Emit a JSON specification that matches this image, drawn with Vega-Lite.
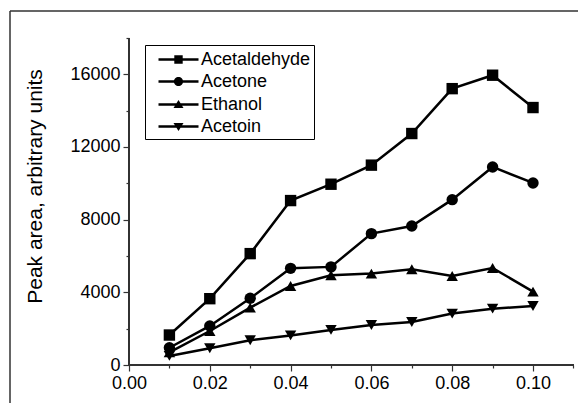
{
  "$schema": "https://vega.github.io/schema/vega-lite/v6.json",
  "width": 568,
  "height": 392,
  "autosize": {"type": "none"},
  "padding": {"left": 10, "top": 11, "right": 0, "bottom": 0},
  "background": "white",
  "config": {
    "view": {"stroke": "#333333", "strokeWidth": 1.5, "strokeDash": [568, 960, 392, 0]},
    "font": "Liberation Sans"
  },
  "data": {
    "values": [
      {"series": "Acetaldehyde", "x": 0.01, "y": 1650},
      {"series": "Acetaldehyde", "x": 0.02, "y": 3650},
      {"series": "Acetaldehyde", "x": 0.03, "y": 6130},
      {"series": "Acetaldehyde", "x": 0.04, "y": 9050},
      {"series": "Acetaldehyde", "x": 0.05, "y": 9950},
      {"series": "Acetaldehyde", "x": 0.06, "y": 11000},
      {"series": "Acetaldehyde", "x": 0.07, "y": 12740},
      {"series": "Acetaldehyde", "x": 0.08, "y": 15210},
      {"series": "Acetaldehyde", "x": 0.09, "y": 15950},
      {"series": "Acetaldehyde", "x": 0.10, "y": 14170},
      {"series": "Acetone", "x": 0.01, "y": 950},
      {"series": "Acetone", "x": 0.02, "y": 2150},
      {"series": "Acetone", "x": 0.03, "y": 3670},
      {"series": "Acetone", "x": 0.04, "y": 5320},
      {"series": "Acetone", "x": 0.05, "y": 5400},
      {"series": "Acetone", "x": 0.06, "y": 7230},
      {"series": "Acetone", "x": 0.07, "y": 7650},
      {"series": "Acetone", "x": 0.08, "y": 9100},
      {"series": "Acetone", "x": 0.09, "y": 10900},
      {"series": "Acetone", "x": 0.10, "y": 10020},
      {"series": "Ethanol", "x": 0.01, "y": 700},
      {"series": "Ethanol", "x": 0.02, "y": 1870},
      {"series": "Ethanol", "x": 0.03, "y": 3160},
      {"series": "Ethanol", "x": 0.04, "y": 4350},
      {"series": "Ethanol", "x": 0.05, "y": 4940},
      {"series": "Ethanol", "x": 0.06, "y": 5030},
      {"series": "Ethanol", "x": 0.07, "y": 5270},
      {"series": "Ethanol", "x": 0.08, "y": 4900},
      {"series": "Ethanol", "x": 0.09, "y": 5340},
      {"series": "Ethanol", "x": 0.10, "y": 4040},
      {"series": "Acetoin", "x": 0.01, "y": 500},
      {"series": "Acetoin", "x": 0.02, "y": 920},
      {"series": "Acetoin", "x": 0.03, "y": 1360},
      {"series": "Acetoin", "x": 0.04, "y": 1630},
      {"series": "Acetoin", "x": 0.05, "y": 1930},
      {"series": "Acetoin", "x": 0.06, "y": 2200},
      {"series": "Acetoin", "x": 0.07, "y": 2370},
      {"series": "Acetoin", "x": 0.08, "y": 2830},
      {"series": "Acetoin", "x": 0.09, "y": 3100},
      {"series": "Acetoin", "x": 0.10, "y": 3250}
    ]
  },
  "resolve": {"axis": {"x": "independent", "y": "independent"}, "scale": {"shape": "independent"}},
  "layer": [
    {
      "mark": {"type": "rule", "color": "#333333", "strokeWidth": 1.2},
      "encoding": {
        "x": {"datum": 0, "type": "quantitative", "axis": null, "scale": {"domain": [-0.029455, 0.111139], "nice": false, "zero": false}},
        "x2": {"datum": 0.11},
        "y": {"datum": 0, "type": "quantitative", "axis": null, "scale": {"domain": [-2091.5, 19484], "nice": false, "zero": false}}
      }
    },
    {
      "mark": {"type": "rule", "color": "#333333", "strokeWidth": 1.2},
      "encoding": {
        "x": {"datum": 0, "type": "quantitative", "axis": null, "scale": {"domain": [-0.029455, 0.111139], "nice": false, "zero": false}},
        "y": {"datum": 0, "type": "quantitative", "axis": null, "scale": {"domain": [-2091.5, 19484], "nice": false, "zero": false}},
        "y2": {"datum": 18000}
      }
    },
    {
      "mark": {"type": "line", "color": "black", "strokeWidth": 2.5},
      "encoding": {
        "x": {"field": "x", "type": "quantitative",
          "scale": {"domain": [-0.029455, 0.111139], "nice": false, "zero": false},
          "axis": {"orient": "bottom", "offset": -38, "values": [0, 0.02, 0.04, 0.06, 0.08, 0.1], "format": ".2f", "domain": false, "grid": false, "ticks": true, "tickSize": 6, "tickColor": "#333333", "tickWidth": 1.2, "labelFont": "Liberation Sans", "labelFontSize": 18, "labelColor": "black", "labelPadding": 3, "labelFlush": false, "labelOverlap": false, "title": null}},
        "y": {"field": "y", "type": "quantitative",
          "scale": {"domain": [-2091.5, 19484], "nice": false, "zero": false},
          "axis": {"orient": "left", "offset": -119, "values": [0, 4000, 8000, 12000, 16000], "format": "d", "domain": false, "grid": false, "tickSize": 6, "tickColor": "#333333", "tickWidth": 1.2, "labelFont": "Liberation Sans", "labelFontSize": 18, "labelColor": "black", "labelPadding": 3, "labelFlush": false, "labelOverlap": false,
            "title": "Peak area, arbitrary units", "titleFont": "Liberation Sans", "titleFontSize": 21, "titleFontWeight": "normal", "titleColor": "black", "titleX": -94, "titleY": 175, "titleAngle": -90, "titleAlign": "center", "titleBaseline": "middle"}},
        "detail": {"field": "series"}
      }
    },
    {
      "mark": {"type": "point", "filled": true, "color": "black", "opacity": 1, "size": 130},
      "encoding": {
        "x": {"field": "x", "type": "quantitative",
          "scale": {"domain": [-0.029455, 0.111139], "nice": false, "zero": false},
          "axis": {"orient": "bottom", "offset": -38, "values": [0.01, 0.03, 0.05, 0.07, 0.09, 0.11], "domain": false, "grid": false, "labels": false, "tickSize": 3, "tickColor": "#333333", "tickWidth": 1.2, "title": null}},
        "y": {"field": "y", "type": "quantitative",
          "scale": {"domain": [-2091.5, 19484], "nice": false, "zero": false},
          "axis": {"orient": "left", "offset": -119, "values": [2000, 6000, 10000, 14000, 18000], "domain": false, "grid": false, "labels": false, "tickSize": 3, "tickColor": "#333333", "tickWidth": 1.2, "title": null}},
        "shape": {"field": "series", "type": "nominal",
          "scale": {"domain": ["Acetaldehyde", "Acetone", "Ethanol", "Acetoin"], "range": ["square", "circle", "triangle-up", "triangle-down"]},
          "legend": null}
      }
    },
    {
      "mark": {"type": "point", "filled": true, "color": "black", "opacity": 0},
      "encoding": {
        "x": {"field": "x", "type": "quantitative", "axis": null, "scale": {"domain": [-0.029455, 0.111139], "nice": false, "zero": false}},
        "y": {"field": "y", "type": "quantitative", "axis": null, "scale": {"domain": [-2091.5, 19484], "nice": false, "zero": false}},
        "shape": {"field": "series", "type": "nominal",
          "scale": {"domain": ["Acetaldehyde", "Acetone", "Ethanol", "Acetoin"],
            "range": [
              "M-2,-0.125L2,-0.125L2,0.125L-2,0.125ZM-0.42,-0.42L0.42,-0.42L0.42,0.42L-0.42,0.42Z",
              "M-2,-0.125L2,-0.125L2,0.125L-2,0.125ZM-0.46,0A0.46,0.46,0,1,1,0.46,0A0.46,0.46,0,1,1,-0.46,0Z",
              "M-2,-0.125L2,-0.125L2,0.125L-2,0.125ZM0,-0.45L0.5,0.36L-0.5,0.36Z",
              "M-2,-0.125L2,-0.125L2,0.125L-2,0.125ZM0,0.45L-0.5,-0.36L0.5,-0.36Z"
            ]},
          "legend": {
            "title": null, "orient": "none", "legendX": 135, "legendY": 34,
            "padding": 3, "strokeColor": "black",
            "symbolSize": 400, "symbolOffset": 19, "labelOffset": 11,
            "symbolFillColor": "black", "symbolStrokeColor": "black", "symbolStrokeWidth": 2.5, "symbolOpacity": 1,
            "labelFont": "Liberation Sans", "labelFontSize": 18, "labelColor": "black", "rowPadding": 1,
            "encode": {
              "legend": {"strokeWidth": {"value": 1.2}},
              "symbols": {"opacity": {"value": 1}, "fill": {"value": "black"}, "fillOpacity": {"value": 1}}
            }
          }}
      }
    }
  ]
}
